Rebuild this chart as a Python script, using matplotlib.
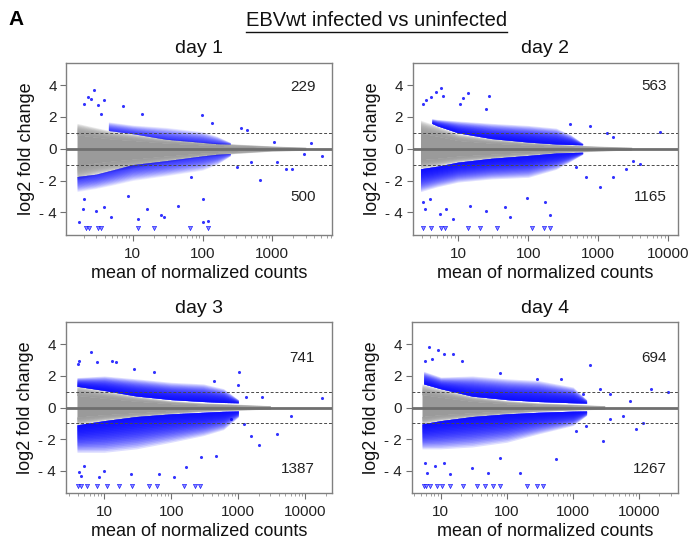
import numpy as np
import matplotlib
matplotlib.use("Agg")
import matplotlib.pyplot as plt
from matplotlib.ticker import FixedLocator, FixedFormatter, LogLocator, NullFormatter
from matplotlib.lines import Line2D

plt.rcParams['font.family'] = ['Liberation Sans', 'DejaVu Sans']

# ---- day 1 ----
d1_x = [1.6, 3, 5, 10, 30, 100, 300, 1000, 3000]
d1_gray_hi = [1.6, 1.33, 1.12, 0.95, 0.66, 0.44, 0.30, 0.18, 0.1]
d1_gray_lo = [-1.95, -1.63, -1.42, -1.2, -0.84, -0.5, -0.3, -0.15, -0.1]
d1_up_x = [4.5, 10, 30, 100, 160, 250]
d1_up_lo = [1.15, 0.95, 0.6, 0.4, 0.32, 0.3]
d1_up_hi = [1.7, 1.5, 1.35, 1.08, 0.8, 0.4]
d1_dn_x = [1.6, 3, 5, 10, 30, 100, 160, 250]
d1_dn_hi = [-1.75, -1.6, -1.35, -1.0, -0.75, -0.45, -0.35, -0.3]
d1_dn_lo = [-2.7, -2.5, -2.3, -2.0, -1.7, -1.35, -1.0, -0.45]
d1_pts_x = [2.04, 2.27, 2.83, 2.54, 3.16, 3.53, 3.94, 7.2, 13.6, 98, 138, 355, 437, 1050, 3550,
            1.73, 1.93, 2.04, 3.0, 3.94, 4.9, 8.5, 11.8, 16.3, 25.3, 28.3, 44, 100, 100, 118,
            676, 1180, 1560, 1940, 2800, 5160, 490, 316, 68]
d1_pts_y = [2.84, 3.26, 3.68, 3.16, 2.74, 2.21, 3.05, 2.67, 2.21, 2.15, 1.62, 1.3, 1.16, 0.42, 0.36,
            -4.63, -3.79, -3.16, -3.9, -3.68, -4.3, -2.95, -4.42, -3.79, -4.2, -4.3, -3.58, -3.16, -4.59, -4.53,
            -1.94, -0.84, -1.26, -1.26, -0.32, -0.46, -0.84, -1.16, -1.79]
d1_clip_x = [2.15, 2.4, 3.16, 3.53, 12, 20.4, 66.7, 118]
d1_n_up, d1_n_dn = 229, 500

# ---- day 2 ----
d2_x = [2.9, 5, 10, 30, 100, 300, 1000, 3000]
d2_gray_hi = [1.8, 1.45, 0.95, 0.64, 0.42, 0.27, 0.17, 0.1]
d2_gray_lo = [-1.26, -1.1, -0.84, -0.63, -0.42, -0.26, -0.15, -0.08]
d2_up_x = [4.2, 5, 10, 30, 100, 250, 400, 600]
d2_up_lo = [1.6, 1.45, 1.0, 0.64, 0.42, 0.3, 0.27, 0.25]
d2_up_hi = [1.9, 1.85, 1.75, 1.6, 1.47, 1.3, 0.9, 0.35]
d2_dn_x = [2.9, 5, 10, 30, 100, 250, 400, 600]
d2_dn_hi = [-1.26, -1.1, -0.84, -0.6, -0.42, -0.27, -0.24, -0.22]
d2_dn_lo = [-2.7, -2.4, -2.1, -1.9, -1.8, -1.3, -0.8, -0.35]
d2_pts_x = [3.16, 3.53, 4.9, 5.65, 6.1, 4.16, 11.8, 13.9, 27.8, 10.6, 25.4, 760, 1320, 1630, 7580, 395,
            3.16, 3.4, 3.94, 5.47, 6.8, 8.5, 14.7, 25.4, 46, 55, 95, 173, 204,
            488, 680, 1050, 1630, 2520, 3950, 3170]
d2_pts_y = [2.84, 3.05, 3.58, 3.83, 3.33, 3.26, 3.2, 3.54, 3.33, 2.84, 2.53, 1.43, 1.01, 0.74, 1.05, 1.58,
            -3.37, -3.79, -3.16, -4.1, -3.79, -4.42, -3.58, -3.9, -3.68, -4.32, -3.12, -3.37, -4.2,
            -1.16, -1.79, -2.42, -1.79, -1.26, -0.95, -0.74]
d2_clip_x = [3.16, 4.16, 5.78, 6.4, 13.9, 20.8, 36.1, 115, 169, 204]
d2_n_up, d2_n_dn = 563, 1165

# ---- day 3 ----
d3_x = [3.9, 10, 30, 100, 300, 1000, 3000]
d3_gray_hi = [1.4, 1.08, 0.73, 0.44, 0.30, 0.21, 0.12]
d3_gray_lo = [-1.1, -0.83, -0.61, -0.4, -0.25, -0.17, -0.1]
d3_up_x = [3.9, 10, 30, 100, 300, 600, 1000]
d3_up_lo = [1.35, 1.08, 0.73, 0.5, 0.38, 0.32, 0.3]
d3_up_hi = [1.9, 2.0, 1.82, 1.6, 1.5, 1.2, 0.5]
d3_dn_x = [3.9, 10, 30, 100, 300, 600, 1000]
d3_dn_hi = [-1.1, -0.83, -0.57, -0.4, -0.3, -0.24, -0.22]
d3_dn_lo = [-2.84, -2.84, -2.62, -2.2, -1.78, -1.4, -0.6]
d3_pts_x = [4.19, 4.05, 6.26, 7.87, 13.2, 14.8, 27.7, 55, 433, 1020, 975, 2290, 17900, 1290,
            4.19, 4.44, 4.97, 8.3, 9.9, 24.7, 66, 110, 163, 273, 457,
            770, 1210, 1520, 2040, 3800, 6040]
d3_pts_y = [2.98, 2.77, 3.51, 2.88, 2.98, 2.88, 2.46, 2.24, 1.71, 2.24, 1.4, 0.66, 0.61, 0.66,
            -4.1, -4.32, -3.68, -4.42, -4.0, -4.21, -4.21, -4.42, -3.79, -3.15, -3.05,
            -0.72, -1.04, -1.78, -2.37, -1.67, -0.55]
d3_clip_x = [4.0, 4.44, 5.57, 7.87, 11.1, 16.6, 26.2, 46.4, 61.9, 155, 225, 268]
d3_n_up, d3_n_dn = 741, 1387

# ---- day 4 ----
d4_x = [5.2, 10, 30, 100, 300, 1000, 3000]
d4_gray_hi = [1.5, 1.19, 0.72, 0.44, 0.30, 0.21, 0.12]
d4_gray_lo = [-1.04, -0.83, -0.61, -0.4, -0.25, -0.17, -0.1]
d4_up_x = [5.5, 10, 30, 100, 300, 1000, 1600]
d4_up_lo = [1.5, 1.19, 0.72, 0.5, 0.38, 0.3, 0.28]
d4_up_hi = [2.3, 1.93, 2.0, 1.82, 1.71, 1.3, 0.5]
d4_dn_x = [5.2, 10, 30, 100, 300, 1000, 1600]
d4_dn_hi = [-1.04, -0.83, -0.57, -0.4, -0.3, -0.23, -0.22]
d4_dn_lo = [-2.62, -2.62, -2.5, -2.2, -1.67, -1.14, -0.5]
d4_pts_x = [5.8, 6.52, 7.3, 9.2, 11, 15.5, 20.7, 78, 280, 665, 1780, 2520, 3560, 7140, 15100, 26800, 1410,
            5.8, 6.1, 8.2, 11, 13.8, 29.3, 52, 157, 78, 560,
            1120, 1590, 2810, 3560, 5650, 8910, 11400]
d4_pts_y = [2.96, 3.81, 3.07, 3.66, 3.39, 3.39, 2.96, 2.22, 1.8, 1.8, 2.69, 1.16, 0.85, 0.42, 1.16, 0.99, 0.85,
            -3.49, -4.13, -3.7, -3.49, -4.23, -3.81, -4.13, -4.13, -3.17, -3.24,
            -1.48, -1.16, -2.12, -0.74, -0.53, -1.38, -0.95]
d4_clip_x = [5.48, 5.95, 6.9, 8.7, 10.4, 13.8, 22, 34.9, 46.6, 62, 78, 198, 280, 353]
d4_n_up, d4_n_dn = 694, 1267

titles = ['day 1', 'day 2', 'day 3', 'day 4']
xlims = [(1.13, 7130), (2.23, 14000), (2.65, 25300), (3.63, 39000)]
xticks = [[10, 100, 1000], [10, 100, 1000, 10000], [10, 100, 1000, 10000], [10, 100, 1000, 10000]]
yticks = [4, 2, 0, -2, -4]
ytick_labels = ['4', '2', '0', '- 2', '- 4']

panels = [
    (d1_x, d1_gray_hi, d1_gray_lo, d1_up_x, d1_up_lo, d1_up_hi, d1_dn_x, d1_dn_hi, d1_dn_lo,
     d1_pts_x, d1_pts_y, d1_clip_x, d1_n_up, d1_n_dn),
    (d2_x, d2_gray_hi, d2_gray_lo, d2_up_x, d2_up_lo, d2_up_hi, d2_dn_x, d2_dn_hi, d2_dn_lo,
     d2_pts_x, d2_pts_y, d2_clip_x, d2_n_up, d2_n_dn),
    (d3_x, d3_gray_hi, d3_gray_lo, d3_up_x, d3_up_lo, d3_up_hi, d3_dn_x, d3_dn_hi, d3_dn_lo,
     d3_pts_x, d3_pts_y, d3_clip_x, d3_n_up, d3_n_dn),
    (d4_x, d4_gray_hi, d4_gray_lo, d4_up_x, d4_up_lo, d4_up_hi, d4_dn_x, d4_dn_hi, d4_dn_lo,
     d4_pts_x, d4_pts_y, d4_clip_x, d4_n_up, d4_n_dn),
]

# axes boxes in figure fractions
boxes = [[0.0965, 0.5705, 0.3853, 0.3141], [0.5987, 0.5705, 0.386, 0.3141],
         [0.0954, 0.0976, 0.387, 0.312], [0.5975, 0.0976, 0.387, 0.312]]
label_x = [0.94, 0.957, 0.933, 0.958]
up_label_y = [3.9, 3.96, 3.13, 3.11]
dn_label_y = [-3.06, -3.05, -3.9, -3.92]
blue_layer_alpha = [0.07, 0.12, 0.125, 0.125]

fig = plt.figure(figsize=(6.89, 5.46), dpi=100)
blue = '#0000ff'
grey = '#9a9a9a'


def graded_band(ax, x, inner, outer, color, a, n, z, solid=0.0):
    # stacked translucent layers: dense next to the inner edge, sparse outside
    x, inner, outer = np.array(x), np.array(inner, float), np.array(outer, float)
    if solid > 0:
        core = inner + (outer - inner) * solid
        ax.fill_between(x, inner, core, color=color, lw=0, zorder=z)
        inner = core
    for k in range(1, n + 1):
        edge = inner + (outer - inner) * k / n
        ax.fill_between(x, inner, edge, color=color, alpha=a, lw=0, zorder=z)


for i, p in enumerate(panels):
    (gx, ghi, glo, ux, ulo, uhi, dx, dhi, dlo, px, py, cx, nup, ndn) = p
    ax = fig.add_axes(boxes[i])
    ax.set_xscale('log')

    # non-significant genes (grey cloud)
    zero = np.zeros(len(gx))
    graded_band(ax, gx, zero, ghi, grey, 0.2, 14, 1, solid=0.55)
    graded_band(ax, gx, zero, glo, grey, 0.2, 14, 1, solid=0.55)

    # significant genes (blue bands)
    graded_band(ax, ux, ulo, uhi, blue, blue_layer_alpha[i], 20, 2)
    graded_band(ax, dx, dhi, dlo, blue, blue_layer_alpha[i], 20, 2)

    ax.scatter(px, py, s=5, color=blue, alpha=0.8, lw=0, zorder=3)
    ax.scatter(cx, [-5] * len(cx), s=9, marker='v', facecolor='#8a8aff', edgecolor=blue,
               lw=0.4, zorder=3)

    ax.axhline(0, color='#6f6f6f', lw=2, zorder=4)
    for yv in (1, -1):
        ax.axhline(yv, color='#4a4a4a', lw=0.7, ls=(0, (3, 2)), zorder=4)

    ax.set_xlim(*xlims[i])
    ax.set_ylim(-5.4, 5.4)
    ax.xaxis.set_major_locator(FixedLocator(xticks[i]))
    ax.xaxis.set_major_formatter(FixedFormatter([str(t) for t in xticks[i]]))
    ax.xaxis.set_minor_locator(LogLocator(base=10, subs=np.arange(2, 10)))
    ax.xaxis.set_minor_formatter(NullFormatter())
    ax.set_yticks(yticks)
    ax.set_yticklabels(ytick_labels)
    ax.tick_params(which='major', direction='out', length=4, width=0.8, color='#707070',
                   labelsize=11, labelcolor='#222222', pad=3)
    ax.tick_params(axis='x', which='major', pad=5)
    ax.tick_params(which='minor', direction='out', length=2.5, width=0.6, color='#909090')
    for s in ax.spines.values():
        s.set_color('#808080')
        s.set_linewidth(1)

    ax.set_title(titles[i], fontsize=14, pad=7, color='#111111')
    ax.set_xlabel('mean of normalized counts', fontsize=13, labelpad=3, color='#111111')
    ax.set_ylabel('log2 fold change', fontsize=13, labelpad=3, color='#111111')

    ax.text(label_x[i], up_label_y[i], str(nup), transform=ax.get_yaxis_transform(),
            ha='right', va='center', fontsize=11, color='#222222')
    ax.text(label_x[i], dn_label_y[i], str(ndn), transform=ax.get_yaxis_transform(),
            ha='right', va='center', fontsize=11, color='#222222')

fig.text(0.012, 0.965, 'A', fontsize=15, weight='bold', va='center', ha='left')
t = fig.text(0.5465, 0.963, 'EBVwt infected vs uninfected', fontsize=14.5, ha='center', va='center',
             color='#111111')
fig.canvas.draw()
bb = t.get_window_extent().transformed(fig.transFigure.inverted())
fig.add_artist(Line2D([bb.x0, bb.x1], [bb.y0 - 0.004, bb.y0 - 0.004], color='#111111', lw=1,
                      transform=fig.transFigure))

fig.savefig('out.png', dpi=100)
